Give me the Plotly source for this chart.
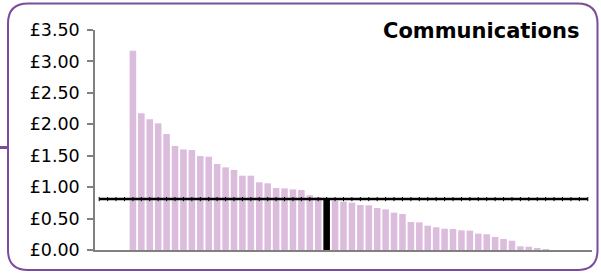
import plotly.graph_objects as go

# ---- data ----
values = [3.17, 2.175, 2.08, 2.015, 1.845, 1.654, 1.60, 1.59, 1.495, 1.485,
          1.368, 1.315, 1.273, 1.182, 1.182, 1.077, 1.061, 0.986, 0.98, 0.965,
          0.954, 0.87, 0.838, 0.816, 0.785, 0.769, 0.753, 0.716, 0.711, 0.668,
          0.647, 0.594, 0.573, 0.445, 0.44, 0.387, 0.361, 0.339, 0.334, 0.313,
          0.308, 0.26, 0.25, 0.207, 0.175, 0.148, 0.058, 0.053, 0.032, 0.011]
highlight_index = 23
average_value = 0.81
title_text = "Communications"
y_ticks = [0, 0.5, 1.0, 1.5, 2.0, 2.5, 3.0, 3.5]
y_tick_labels = ["£0.00", "£0.50", "£1.00", "£1.50", "£2.00", "£2.50", "£3.00", "£3.50"]

# ---- layout geometry (pixels) ----
W, H = 601, 279
L, R, T, B = 95, 9, 30, 29
pw, ph = W - L - R, H - T - B

def px(x):
    return (x - L) / pw

def py(y):
    return (H - B - y) / ph

positions = list(range(len(values)))
bar_colors = ["#dcbcdc"] * len(values)
bar_colors[highlight_index] = "#000000"

fig = go.Figure()
fig.add_trace(go.Bar(x=positions, y=values, marker=dict(color=bar_colors, line=dict(width=0)),
                     showlegend=False, hoverinfo="y"))
line_x = list(range(-4, len(values) + 5))
fig.add_trace(go.Scatter(x=line_x, y=[average_value] * len(line_x), mode="lines+markers",
                         line=dict(color="#000000", width=2.5),
                         marker=dict(symbol="line-ns", size=3, line=dict(width=1, color="#000000")),
                         showlegend=False, hoverinfo="skip"))

# rounded border
x0, x1, y0, y1, r = 8, 597.5, 3.5, 270, 20
path = (f"M {px(x0+r)},{py(y0)} L {px(x1-r)},{py(y0)} Q {px(x1)},{py(y0)} {px(x1)},{py(y0+r)} "
        f"L {px(x1)},{py(y1-r)} Q {px(x1)},{py(y1)} {px(x1-r)},{py(y1)} "
        f"L {px(x0+r)},{py(y1)} Q {px(x0)},{py(y1)} {px(x0)},{py(y1-r)} "
        f"L {px(x0)},{py(y0+r)} Q {px(x0)},{py(y0)} {px(x0+r)},{py(y0)} Z")
shapes = [
    dict(type="path", xref="paper", yref="paper", path=path,
         line=dict(color="#7b4c9c", width=2), fillcolor="rgba(0,0,0,0)", layer="below"),
    dict(type="line", xref="paper", yref="paper", x0=px(0), x1=px(x0), y0=py(147.5), y1=py(147.5),
         line=dict(color="#7b4c9c", width=3)),
]

fig.update_layout(
    width=W, height=H, margin=dict(l=L, r=R, t=T, b=B, pad=0),
    paper_bgcolor="white", plot_bgcolor="white",
    bargap=0.22,
    font=dict(family="DejaVu Sans, Verdana, sans-serif", size=16, color="#000000"),
    xaxis=dict(range=[-4.5, len(values) + 4.5], showticklabels=False, showgrid=False,
               zeroline=False, showline=True, linecolor="#808080", linewidth=2, ticks=""),
    yaxis=dict(range=[0, 3.5], tickmode="array", tickvals=y_ticks, ticktext=y_tick_labels,
               showgrid=False, zeroline=False, showline=True, linecolor="#808080", linewidth=1.5,
               ticks="outside", ticklen=6, tickcolor="#808080", tickwidth=1.5,
               tickfont=dict(size=17.5), ticklabelstandoff=4),
    shapes=shapes,
    annotations=[dict(text=f"<b>{title_text}</b>", xref="paper", yref="paper",
                      x=px(581), y=py(31), xanchor="right", yanchor="middle", showarrow=False,
                      font=dict(size=21, family="DejaVu Sans, Verdana, sans-serif", color="#000000"))],
)

fig.write_html("out.html", config={"displayModeBar": False},
               post_script="document.body.style.margin='0';document.body.style.overflow='hidden';")
